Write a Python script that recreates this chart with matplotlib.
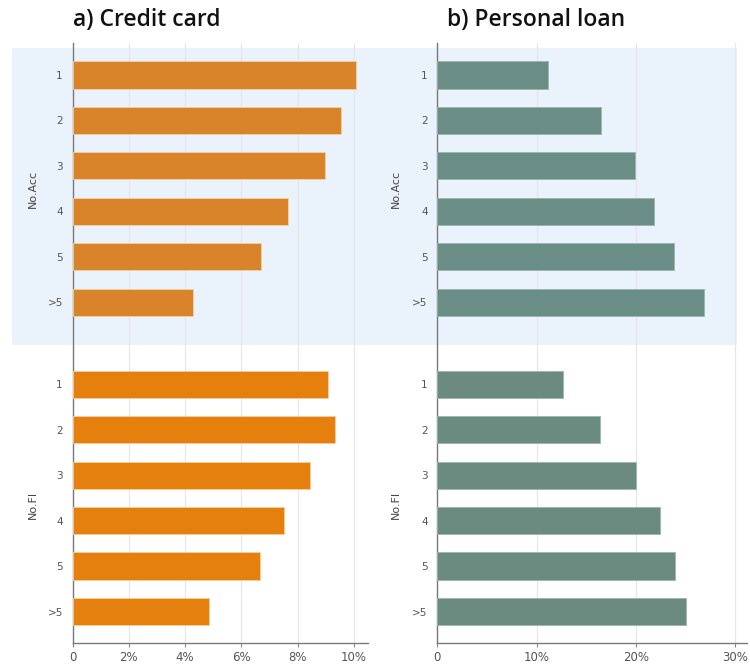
import matplotlib
matplotlib.use("Agg")
import matplotlib.pyplot as plt
import matplotlib.transforms as mtransforms
from matplotlib.patches import Rectangle
from matplotlib.ticker import FuncFormatter

categories = ["1", "2", "3", "4", "5", ">5"]
groups = ["No.Acc", "No.FI"]

credit_noacc = [10.07, 9.54, 8.96, 7.67, 6.68, 4.29]
credit_nofi = [9.08, 9.31, 8.44, 7.52, 6.65, 4.86]
loan_noacc = [11.14, 16.44, 19.9, 21.85, 23.86, 26.88]
loan_nofi = [12.65, 16.37, 19.97, 22.42, 23.96, 25.1]

titles = ["a) Credit card", "b) Personal loan"]
credit_ticks = [0, 2, 4, 6, 8, 10]
loan_ticks = [0, 10, 20, 30]

fig = plt.figure(figsize=(7.5, 6.64), dpi=100)
plt.rcParams['font.family'] = ['DejaVu Sans']

gap = 1.8
pos_acc = [i for i in range(len(categories))]
pos_fi = [i + len(categories) - 1 + gap for i in range(len(categories))]

ax1 = fig.add_axes([0.0967, 0.0316, 0.394, 0.9036])
ax2 = fig.add_axes([0.5832, 0.0316, 0.4128, 0.9036])

def pct(v, _):
    return "0" if v == 0 else f"{v:g}%"

panels = [
    (ax1, credit_noacc, credit_nofi, "#D9832B", "#E5800F", credit_ticks, 10.5, titles[0], -0.0, -0.135),
    (ax2, loan_noacc, loan_nofi, "#6A8D85", "#6B8B80", loan_ticks, 31.2, titles[1], 0.032, -0.135),
]

for ax, acc, fi, c_acc, c_fi, ticks, xmax, title, tx, gx in panels:
    ax.set_facecolor("none")
    ax.barh(pos_acc, acc, height=0.6, color=c_acc, edgecolor="#F2D2A8" if ax is ax1 else "#9DB5AE",
            linewidth=0.6, zorder=3)
    ax.barh(pos_fi, fi, height=0.6, color=c_fi, edgecolor="#F5CFA0" if ax is ax1 else "#9DB5AE",
            linewidth=0.6, zorder=3)
    ax.set_xlim(0, xmax)
    ax.set_ylim(pos_fi[-1] + 0.69, -0.7)
    ax.set_xticks(ticks)
    ax.xaxis.set_major_formatter(FuncFormatter(pct))
    ax.set_yticks(pos_acc + pos_fi)
    ax.set_yticklabels(categories + categories)
    ax.tick_params(axis="y", length=0, labelsize=7.5, labelcolor="#555555", pad=7)
    ax.tick_params(axis="x", length=3, width=0.8, color="#888888", labelsize=8.5,
                   labelcolor="#555555", pad=3)
    ax.grid(axis="x", color="#E4E8EE", linewidth=0.9, zorder=0)
    ax.set_axisbelow(True)
    for s in ["top", "right"]:
        ax.spines[s].set_visible(False)
    for s in ["left", "bottom"]:
        ax.spines[s].set_color("#7A7A7A")
        ax.spines[s].set_linewidth(1.0)
    tr = mtransforms.blended_transform_factory(ax.transAxes, ax.transData)
    ax.text(gx, (pos_acc[2] + pos_acc[3]) / 2, groups[0], rotation=90, transform=tr,
            ha="center", va="center", fontsize=8, color="#444444")
    ax.text(gx, (pos_fi[2] + pos_fi[3]) / 2 + 0.15, groups[1], rotation=90, transform=tr,
            ha="center", va="center", fontsize=8, color="#444444")
    ax.text(tx, 1.018, title, transform=ax.transAxes, ha="left", va="bottom",
            fontsize=16.5, fontweight="semibold", family=["Open Sans", "DejaVu Sans"], color="#111111")

# shaded band behind the No.Acc group spanning both panels
trans = mtransforms.blended_transform_factory(fig.transFigure, ax1.transData)
band = Rectangle((0.016, -0.6), 0.967, pos_acc[-1] + 0.93 + 0.6, transform=trans,
                 facecolor="#EAF2FB", edgecolor="none", zorder=-10)
fig.patches.append(band)

fig.savefig("out.png", dpi=100)
